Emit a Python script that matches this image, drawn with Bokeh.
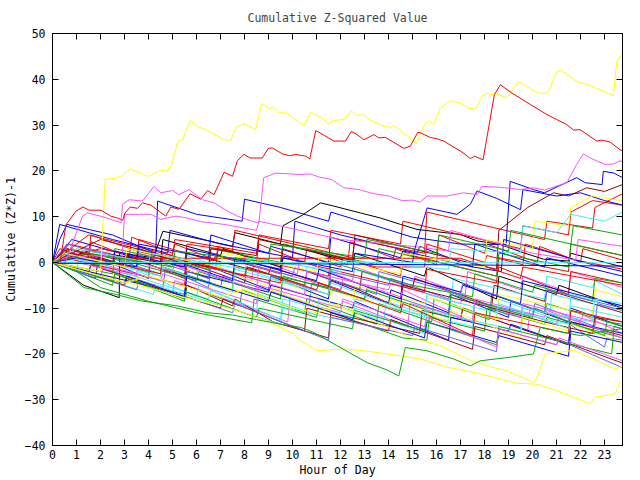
from bokeh.plotting import figure
from bokeh.models import LinearAxis, FixedTicker, Range1d
from bokeh.embed import file_html
from bokeh.resources import INLINE

# ---------------- data (hour, value) ----------------
x_ticks = list(range(0, 24))
y_ticks = [-40, -30, -20, -10, 0, 10, 20, 30, 40, 50]

s01 = [(0, 0), (0.3, 3), (1.5, 0.8), (1.6, 4.5), (3.2, 1.2), (3.3, 5.5), (5, 2), (5.1, 4), (6.8, 0.5), (6.9, 3.5), (8.5, 0.3), (8.6, 4), (10.5, 0), (10.6, 3), (12.3, -0.5), (12.4, 4.5), (14.2, 1), (14.3, 3), (16, -0.5), (16.1, 6), (18, 2), (18.1, 4), (20.2, 0), (20.3, 3.5), (22, 0), (22.1, 3), (23.75, 0.5)]
s02 = [(0, 0), (1.8, -3.5), (1.9, 1), (4, -3.5), (4.1, 1.5), (6.5, -3.5), (6.6, -1), (9, -6), (9.1, -3), (11.5, -8), (11.6, -4), (14, -9), (14.1, -6), (16.5, -11), (16.6, -7), (19, -12), (19.1, -8.5), (21.5, -13), (21.6, -10), (23.75, -14)]
s03 = [(0, 0), (2.5, -5), (2.6, -2.5), (5.5, -8.5), (5.6, -5), (7.8, -9.5), (7.9, -6), (10.5, -11), (10.6, -8), (13.5, -13.5), (13.6, -9), (15.8, -13), (15.9, -8), (18.2, -12.5), (18.3, -7), (20.5, -11), (20.6, -9), (23.75, -14)]
s04 = [(0, 0), (0.4, 2), (2, -1), (2.1, 2), (4, -2), (4.1, 1.5), (6, -2.5), (6.1, 0), (8.3, -4), (8.4, 1), (10.2, -2.5), (10.3, 0.5), (12.5, -4), (12.6, -1), (15, -5.5), (15.1, -3), (17.2, -7), (17.3, -2), (19.5, -6), (19.6, -3), (21.5, -6.5), (21.6, -2), (23.75, -5.5)]
s05 = [(0, 0), (1, -2), (1.1, 1), (3.5, -4), (3.6, -2), (6, -7.5), (6.1, -5), (8.5, -10.5), (8.6, -7), (11, -11.5), (11.1, -8), (13.8, -13), (13.9, -8.5), (16.5, -13), (16.6, -9), (18.5, -12.5), (18.6, -8), (20.7, -12), (20.8, -7), (23.75, -10.5)]
s06 = [(0, 0), (0.5, -1), (0.6, 3), (3, -1), (3.1, 1.5), (5.5, -3.5), (5.6, 0), (8, -4.5), (8.1, -1), (10.5, -5), (10.6, -2), (12.8, -6), (12.9, -2), (15, -5.5), (15.1, -3.5), (18.3, -9.5), (18.4, -5), (20.5, -8.5), (20.6, -6), (23.75, -11)]
s07 = [(0, 0), (1.5, -3), (1.6, -0.5), (4.6, -5.5), (4.7, -1.5), (7, -5.5), (7.1, -3), (10.7, -9), (10.8, -4.5), (13, -8), (13.1, -5.5), (17.5, -13), (17.6, -8.5), (20, -11.5), (20.1, -9), (22.6, -14), (22.7, -9), (23.75, -10.5)]
s08 = [(0, 0), (1.3, -5), (2.78, -7.7), (2.8, 2.1), (4.2, 1), (4.6, 6.8), (6.6, 4.6), (7.5, 3.5), (7.6, 6.5), (9.5, 4), (9.6, 8), (10.34, 10.1), (11.17, 13.0), (11.72, 12.3), (12.83, 10.8), (13.66, 9.7), (14.5, 8.3), (15.19, 7.2), (16.99, 6.1), (17.69, 4.7), (18.66, 3.9), (19.63, 2.1), (20.46, 0.7), (21.5, 0.3), (21.6, 2), (22.8, 0.3), (23.75, -1)]
s09 = [(0, 0), (0.5, 2.5), (1.5, 1), (1.6, 6), (3.5, 2.5), (5.5, 0), (6.8, -1.5), (6.9, 3), (9, 0), (11.5, -3), (11.6, 1.5), (13.5, -1), (15.5, -1), (15.6, 4), (18, 0), (18.1, 1.5), (19.6, -0.5), (19.7, 4), (21.8, 0.5), (23.75, -1.5)]
s10 = [(0, 0), (1, -2), (2, -5.5), (4, -8.5), (6, -11), (8.3, -13.2), (8.4, -8), (11, -12), (11.1, -10), (14.6, -16.5), (15.6, -17), (15.7, -12), (18, -15), (18.1, -10), (20.5, -13.5), (20.6, -12), (23.75, -16.5)]
s11 = [(0, 0), (0.3, 8.3), (2.5, 5), (4.8, 2), (4.9, 7), (7, 4), (10, 1), (10.1, 9), (12, 6), (15.2, 2), (15.3, 3.5), (17.5, -1), (18.7, -2), (18.8, 5), (20.5, 2.5), (22.5, -0.5), (23.75, -2)]
s12 = [(0, 0), (2, -3), (2.1, -1.5), (5, -6.5), (5.1, -4), (9.8, -13), (9.9, -8), (12, -11), (12.1, -8.5), (14.8, -14), (14.9, -9), (17, -12), (17.1, -10), (19.8, -15), (19.9, -10), (22, -13), (22.1, -11.5), (23.75, -15.5)]
s13 = [(0, 0), (0.5, 1.5), (3.3, -2.5), (3.4, 3), (5.5, 0), (5.6, 1.5), (8, -3), (8.1, -1.5), (10.5, -6), (10.6, -1), (12.5, -3), (12.6, -1.5), (16.6, -8.5), (16.7, -3.5), (20.5, -8), (20.6, -3), (22.5, -5.5), (22.6, -4), (23.75, -7)]
s14 = [(0, 0), (1.5, -2), (1.6, -0.5), (5.5, -7.5), (5.6, -5), (7.5, -9.5), (7.6, -8), (9.2, -13), (11.5, -16.5), (11.6, -11), (15.3, -15.5), (15.4, -10.5), (17, -12.5), (17.1, -10), (19.5, -14.5), (21.5, -18), (21.6, -13), (23.75, -16)]
s15 = [(0, 0), (3.5, -4.5), (3.6, 1), (6.5, -3), (6.6, -1), (9.5, -6), (9.6, -4), (12.5, -11), (12.6, -5), (15.5, -9), (15.6, -7.5), (18.5, -12.5), (18.6, -7), (22.5, -11.5), (22.6, -6), (23.75, -7.5)]
s16 = [(0, 0), (0.6, 2), (2, 0), (2.1, 1.5), (4.5, -2.5), (4.6, -1), (6.5, -5.5), (6.6, -1), (9, -4.5), (9.1, -3), (11.5, -7), (11.6, -2), (14, -5), (14.1, -3.5), (16.5, -8), (16.6, -6.5), (19, -11.5), (19.1, -10), (21, -13.5), (21.1, -12), (23, -18.5), (23.1, -16.5), (23.75, -17)]
s17 = [(0, 0), (0.7, 4), (3.5, 0.5), (3.6, 5), (6.7, 0.3), (6.8, 1.5), (9.5, -2.5), (9.6, 3), (12, -1), (12.1, 1), (14.5, -3), (14.6, 2), (18.5, -3), (18.6, -1), (21.5, -7), (21.6, -2), (23.75, -4.5)]
s18 = [(0, 0), (1.5, -2), (5.5, -7), (5.6, -2), (9, -6.5), (9.1, -5), (12.5, -10), (12.6, -8.5), (16.5, -17), (16.6, -12), (19, -15), (19.1, -13.5), (21.5, -18), (21.6, -13), (23.75, -15.5)]
s19 = [(0, 0), (0.8, 3), (4.5, -3), (4.6, -1), (7.5, -6), (7.6, -1), (11.5, -5.5), (11.6, 0), (15, -5), (17.5, -7.5), (17.6, -2.5), (20, -6.5), (20.1, -5), (22.5, -8.5), (22.6, -3.5), (23.75, -4.5)]
s20 = [(0, 0), (1, 0), (3.5, -3), (3.6, 2), (6, -1.5), (6.1, 0), (10.5, -7), (10.6, -2), (14, -6), (14.1, -4.5), (17, -9), (17.1, -7.5), (19.5, -12), (19.6, -9), (23.75, -14.5)]
s21 = [(0, 0), (4.2, -7), (4.3, -5), (9.5, -13.5), (9.6, -10), (12.5, -13), (12.6, -8), (17.5, -14), (17.6, -9), (21.5, -13.5), (21.6, -7), (23.75, -9.5)]
s22 = [(0, 0), (0.6, 3), (3, -0.5), (3.1, 1), (5.5, -3), (5.6, 2), (9, -2.5), (9.1, -1), (12, -6), (12.1, -4.5), (14.5, -10), (14.6, -5), (18, -9.5), (20.5, -13), (22.5, -15.5), (22.6, -12), (23.75, -13)]
s23 = [(0, 0), (2.5, -4), (2.6, -2.5), (6.5, -9), (6.6, -4.5), (9, -8), (9.1, -6), (11.5, -10.5), (11.6, -6), (14, -10), (14.1, -8), (16.5, -13), (16.6, -10.5), (19.5, -16.5), (19.6, -12), (21.5, -15), (21.6, -13.5), (23.75, -17.5)]
s24 = [(0, 0), (1.5, 2.5), (4.5, 0), (4.6, 5), (7, 1.5), (7.1, 3), (9.5, -1), (9.6, 4), (12.5, 0), (12.6, 2), (15.5, -3), (15.6, -1), (18.5, -8), (18.6, -3), (21, -7), (21.1, -5), (23.75, -10)]
s25 = [(0, 0), (0.5, 1), (5.5, -5), (5.6, 0), (9.5, -4.5), (9.6, 1), (15.5, -6.5), (15.6, -1.5), (18.5, -4.5), (18.6, 1), (21.5, -2), (21.6, 4), (23.75, 1.5)]
s26 = [(0, 0), (0.8, 5), (3.5, 1), (3.6, 3), (7.5, -4), (7.6, 1), (11, -4), (11.1, -1.5), (14.5, -8), (14.6, -3), (17, -6.5), (17.1, -5), (19.5, -9), (19.6, -4), (23.75, -9.5)]
s27 = [(0, 0), (2.5, -2.5), (2.6, 1), (6, -4), (6.1, -2), (9.5, -8), (9.6, -3), (13, -8), (13.1, -6), (16.5, -12), (16.6, -7), (20, -12), (20.1, -10), (23, -16), (23.1, -13), (23.75, -13.5)]
s28 = [(0, 0), (1.5, 3), (5, -2), (5.1, 0), (8.5, -6), (8.6, -1), (12, -6), (12.1, -3.5), (14.5, -7.5), (14.6, -6), (17.5, -13), (17.6, -8), (20.5, -12), (20.6, -10.5), (23.75, -16.5)]
s29 = [(0, 0), (1.5, 1), (4.5, -3), (4.6, -1), (7.5, -6.5), (7.6, -1.5), (11.5, -7), (11.6, -4.5), (15.5, -12), (15.6, -7), (18.5, -11), (18.6, -9), (21.5, -14.5), (21.6, -9.5), (23.75, -12)]
s30 = [(0, 0), (3, -5), (3.1, -3.5), (7, -10), (7.1, -8), (10.5, -15), (10.6, -10), (14, -15), (14.1, -12.5), (17.5, -19), (17.6, -14), (20.5, -18), (20.6, -16), (23.75, -22)]
s31 = [(0, 0), (0.6, 4), (3.5, 0), (3.6, 1.5), (6.5, -3.5), (6.6, 2), (10, -3), (10.1, -1), (13.5, -7), (13.6, -2), (17, -7), (17.1, -4.5), (20.5, -11), (20.6, -6), (23.75, -10)]
s32 = [(0, 0), (1.5, 6), (5, 1.5), (5.1, 5), (8.5, 2), (8.6, 6), (11.5, 3), (11.6, 7), (14.5, 4), (14.6, 9), (19.5, 3), (19.6, 8), (21.5, 6), (21.6, 11), (22.5, 13.5), (23.75, 12.5)]
s33 = [(0, 0), (0.7, 2), (3.5, -1), (3.6, 4), (6.5, 1), (6.6, 6), (9, 2), (9.1, 3.5), (11.5, 0), (11.6, 5.5), (14.5, 1), (14.6, 2.5), (17.5, -1), (17.6, 4), (20.5, -1), (20.6, 1), (23.75, -3)]
s34 = [(0, 0), (2.5, -0.5), (2.6, 3), (6.5, -1.5), (6.6, 3), (9.5, 0), (9.6, 4), (13.5, -0.5), (13.6, 3), (18.5, -3), (18.6, 2), (21.5, -1), (21.6, 4), (23.75, 1.5)]
s35 = [(0, 0), (2, 3), (5.5, -1), (5.6, 4), (7.5, 2.5), (7.6, 7), (12.5, 1), (12.6, 5), (15.5, 2), (15.6, 11), (20.5, 5), (20.6, 9), (22.5, 7.5), (22.6, 12), (23.75, 15)]
s36 = [(0, 0), (2, 5), (6.5, -1), (6.6, 3), (8.5, 1.5), (8.6, 5), (12.5, 0.5), (12.6, 6), (18.5, -1.5), (18.6, 7), (19.8, 12), (20.88, 15.2), (21.5, 14.5), (22.26, 16.3), (23, 15.5), (23.75, 17)]
s37 = [(0, 0), (3, -4.5), (3.1, -2.5), (6.5, -8), (6.6, -6), (9.5, -12.5), (9.6, -8), (12.5, -12), (12.6, -10), (15.5, -15.5), (15.6, -10.5), (19.5, -15), (19.6, -10), (22.5, -13), (22.6, -8), (23.75, -9)]
s38 = [(0, 0), (3.5, -6), (3.6, -4), (7.5, -11), (7.6, -9), (11.5, -17), (11.6, -12), (15, -16), (15.1, -14), (18.5, -19.5), (18.6, -14.5), (21, -18), (21.1, -17), (23.75, -23)]
s39 = [(0, 0), (3, -4.5), (3.1, -3), (5.5, -7.5), (5.6, -3), (9, -8.5), (9.1, -6.5), (12.5, -12.5), (12.6, -11), (15.5, -16.5), (15.6, -13), (18.5, -17.5), (18.6, -16), (21.5, -20.5), (21.6, -15), (23.75, -17.5)]
s40 = [(0, 0), (2.5, -4), (2.6, -2.5), (5.5, -8), (5.6, -6.5), (8.5, -12), (8.6, -10), (12.5, -14.5), (12.6, -10.5), (15.5, -15), (15.6, -13), (18.5, -18), (18.6, -14), (23.3, -20), (23.4, -14), (23.75, -14.5)]
s41 = [(0, 0), (0.8, 2), (4.5, -2.5), (4.6, 2), (8, -3), (8.1, -1), (11, -6), (11.1, -4.5), (14.5, -11), (14.6, -9), (17.5, -16), (17.6, -11), (21.5, -15.5), (21.6, -10.5), (23.75, -13)]
s42 = [(0, 0), (0.8, 1.5), (4.5, -4), (4.6, -2.5), (8.5, -9), (8.6, -5), (12, -10), (12.1, -8), (15.5, -14), (15.6, -12), (18.5, -18.5), (18.6, -14.5), (21, -18), (21.1, -16.5), (23.75, -21.5)]
s43 = [(0, 0), (1, 2.5), (2.5, 0.9), (17, 0.9), (19.5, -3.5), (19.6, -1), (23.75, -5)]
s44 = [(0, 0), (0.3, 5), (0.6, 8.3), (2.5, 6), (4.3, 2), (4.38, 13.4), (6, 10.5), (7.9, 9), (8, 13.8), (9.5, 12), (11.5, 9), (11.6, 11), (15, 5.5), (17, 4), (18.9, 3.9), (19.07, 17.7), (20.04, 15.9), (20.5, 15.2), (21.84, 18.5), (22.2, 17.4), (22.9, 17), (22.95, 19.9), (23.4, 19.5), (23.75, 18.5)]
s45 = [(0, 0), (1.5, 1.5), (2.9, 1), (3.0, 10.5), (4.1, 10.5), (4.51, 9.4), (5.14, 10.1), (5.62, 9.7), (6.18, 8.9), (7.15, 8.3), (8.5, 7), (8.6, 9), (12, 5), (15, 3.5), (16.5, 2.5), (16.6, 7), (20, 2), (21.8, 0.5), (21.9, 5), (23.75, 3.5)]
s46 = [(0, 0), (1, 1), (2.5, -0.5), (2.6, 2.5), (5.5, -1), (5.6, 3), (9.5, -1.5), (9.6, 1), (12.5, -2), (12.6, 2), (15, 0), (15.1, 3), (15.61, 11.9), (16.85, 10.5), (17.41, 12.7), (17.69, 15.6), (18.5, 14), (19.5, 11.5), (19.6, 15.9), (21, 14.5), (22, 15.2), (23, 13.5), (23.75, 12.5)]
s47 = [(0, 0), (0.5, 2), (3, -1), (3.1, 3), (7, -1), (7.1, 2), (11, -2), (11.1, 1), (14.5, -2.5), (14.6, 2), (18, -1), (18.1, 5), (20, 3), (20.1, 9), (21.5, 8), (21.6, 12), (22.5, 14.5), (23, 14), (23.75, 13.5)]
s48 = [(0, 0), (1, 3), (4, 0), (4.1, 2), (8, -1.5), (8.1, 1), (12, -2), (12.1, 0.5), (16.5, -1.5), (16.6, 3), (19.5, 2), (19.6, 8), (21, 6.5), (21.6, 10.5), (23, 9), (23.75, 11)]
s49 = [(0, 0), (1.5, 2), (5, -1), (5.1, 2.5), (9, 0), (9.1, 4), (13, 1), (13.1, 5), (16, 2), (16.1, 6), (19, 2.5), (19.1, 7), (21.6, 4), (21.7, 8), (23.75, 6)]

top_yellow = [(0, 0), (1, -1), (2.0, -2), (2.2, 18.2), (2.57, 18.3), (2.85, 18.8), (3.24, 20.4), (3.96, 18.8), (4.51, 20.1), (4.72, 19.9), (4.96, 21.2), (5.23, 26.5), (5.42, 26.8), (5.73, 31.0), (6.04, 29.7), (6.46, 28.8), (7.15, 26.8), (7.43, 26.7), (7.63, 29.4), (7.98, 30.3),
              (8.46, 29.0), (8.71, 34.7), (9.02, 33.6), (9.2, 33.9), (9.43, 32.8), (9.71, 32.8), (10.47, 29.9), (10.75, 32.8), (11.14, 31.8), (11.51, 30.3), (11.7, 31.0), (12.14, 31.2), (12.45, 33.1), (12.7, 32.1), (12.93, 32.3), (13.25, 31.0), (13.84, 29.7),
              (14.08, 29.5), (14.22, 29.9), (14.98, 26.8), (15.16, 26.0), (15.33, 28.2), (15.54, 30.4), (15.67, 30.8), (15.88, 30.1), (16.16, 33.7), (16.58, 35.3), (16.99, 34.8), (17.34, 33.7), (17.62, 33.4), (17.9, 36.3), (18.1, 37.0), (18.31, 36.6),
              (18.45, 36.8), (18.94, 36.0), (19.42, 39.5), (19.77, 38.4), (20.11, 37.3), (20.46, 36.8), (20.67, 37.3), (21.01, 41.7), (21.22, 41.9), (21.85, 39.5), (22.26, 38.9), (22.82, 37.7), (23.37, 36.4), (23.51, 43.9), (23.75, 45.5)]
top_red = [(0, 0), (0.3, -0.5), (0.56, 8.2), (0.98, 11.2), (1.26, 12.1), (1.53, 11.4), (2.02, 11.4), (2.43, 10.1), (2.71, 9.7), (2.92, 9.2), (3.02, 10.8), (3.24, 12.1), (3.54, 11.8), (3.75, 13.0), (4.1, 12.5), (4.72, 10.1), (4.93, 12.1), (5.27, 11.6), (5.73, 15.0), (6.18, 13.8),
           (6.46, 15.7), (6.73, 14.8), (7.15, 19.7), (7.5, 18.8), (7.7, 22.2), (7.98, 23.6), (8.23, 22.8), (8.74, 22.8), (8.99, 24.9), (9.16, 25.0), (9.58, 23.7), (9.89, 23.3), (10.13, 23.6), (10.34, 23.4), (10.55, 23.2), (10.72, 22.6), (10.97, 28.8), (11.34, 27.7),
           (11.72, 26.5), (12.21, 26.5), (12.45, 28.6), (12.7, 27.9), (12.97, 26.8), (13.39, 27.9), (13.6, 27.2), (13.87, 27.3), (14.64, 24.9), (14.91, 25.4), (15.22, 28.4), (15.33, 28.3), (15.74, 27.3), (16.02, 27.0), (16.3, 26.5), (16.65, 25.4),
           (17.06, 24.1), (17.41, 22.7), (17.59, 23.2), (17.94, 22.4), (18.41, 36.6), (18.66, 38.8), (19.14, 37.0), (19.91, 34.5), (20.6, 32.3), (21.01, 31.2), (21.43, 30.1), (21.71, 28.9), (21.98, 29.0), (22.68, 26.5), (22.89, 26.7), (23.23, 26.3),
           (23.65, 24.6), (23.75, 24.4)]
top_magenta = [(0, 0), (0.5, -0.5), (1.25, 10.1), (1.46, 10.8), (2.0, 10.1), (2.85, 8.7), (2.92, 12.7), (3.2, 13.7), (3.75, 13.4), (4.23, 16.6), (4.51, 15.2), (5.0, 15.7), (5.27, 14.8), (5.69, 15.9), (6.25, 13.7), (6.73, 13.0), (7.29, 11.2), (7.7, 10.1), (8.3, 9.0), (8.6, 8.6),
               (8.8, 18.5), (9.3, 19.5), (10.34, 19.2), (10.75, 19.3), (11.14, 18.6), (11.63, 18.1), (12.14, 16.3), (12.76, 15.9), (13.39, 15.0), (14.0, 14.5), (14.57, 13.5), (15.0, 13.6), (15.33, 13.2), (15.61, 14.5), (16.44, 14.5), (17.13, 15.2),
               (17.69, 14.8), (17.9, 16.6), (18.66, 16.4), (19.49, 15.9), (20.04, 16.3), (20.5, 15.8), (21.43, 17.4), (21.84, 21.4), (22.12, 23.7), (22.4, 22.8), (23.02, 21.4), (23.37, 21.5), (23.65, 22.2), (23.75, 22.0)]
low_yellow = [(0, 0), (1, -1.5), (2, -3), (3, -4.3), (4, -5.5), (5, -7), (6, -8.3), (7, -9.5), (8, -11), (9, -13), (10, -15.5), (10.34, -17.1), (11.03, -19.3), (12.14, -18.9), (12.97, -19.3), (14.5, -20.4), (15.33, -21.1), (16.44, -22.9),
              (17.55, -24.0), (18.66, -25.5), (19.35, -26.4), (20.18, -26.6), (21, -28), (22.4, -30.9), (22.6, -29.5), (23.44, -28.7), (23.65, -26.2), (23.75, -26.0)]
mid_yellow = [(0, 0), (1, -1.5), (2, -3), (3, -4.5), (4, -3), (5, -4.5), (6, -6), (7, -7.5), (8, -6), (9, -8), (10, -10), (11, -11), (12, -9), (13, -12), (14, -14.2), (14.91, -16.4), (16.16, -18.2), (17.27, -21.1), (18.1, -22.6), (18.94, -23.7),
              (20.04, -26.2), (20.2, -25), (20.53, -20.0), (21.71, -19.2), (22.5, -21), (23.44, -23.3), (23.75, -22.6)]
low_green = [(0, 0), (1.32, -5.5), (2.56, -6.9), (3.68, -8.4), (5.2, -9.5), (6.46, -11), (7.5, -11.5), (8.5, -12.5), (9.5, -13.5), (10.34, -14.2), (10.89, -15.3), (11.86, -18.2), (13.11, -21.9), (13.94, -23.5), (14.43, -24.8), (14.7, -18.6), (15.6, -19.3),
             (16.71, -21.1), (17.41, -22.6), (17.82, -21.5), (18.94, -20.8), (20.04, -20.0), (20.32, -14.2), (21, -15), (22, -16), (23, -15), (23.75, -14.5)]
flat_cyan = [(0, 0), (0.5, 0.0), (23.75, -0.1)]
flat_blue = [(0, 0), (0.25, -0.2), (10, -0.3), (23.75, -0.8)]

# ---------------- styling ----------------
RED = "#ff0000"
GREEN = "#00b000"
BLUE = "#0000ff"
MAGENTA = "#ff50ff"
CYAN = "#40f0f0"
DARKRED = "#a00000"
YELLOW = "#ffff00"
BLACK = "#000000"
SLATE = "#6464ff"

series = [
    (s01, RED), (s02, BLUE), (s03, GREEN), (s04, MAGENTA), (s05, CYAN), (s06, DARKRED), (s07, SLATE), (s08, BLACK),
    (s09, RED), (s10, GREEN), (s11, BLUE), (s12, MAGENTA), (s13, CYAN), (s14, DARKRED), (s15, YELLOW), (s16, SLATE),
    (s17, RED), (s18, BLUE), (s19, GREEN), (s20, MAGENTA), (s21, CYAN), (s22, DARKRED), (s23, YELLOW), (s24, BLACK),
    (s25, RED), (s26, BLUE), (s27, GREEN), (s28, MAGENTA), (s29, CYAN), (s30, DARKRED), (s31, SLATE), (s32, RED),
    (s33, BLUE), (s34, GREEN), (s35, RED), (s36, DARKRED), (s37, CYAN), (s38, SLATE), (s39, BLUE), (s40, GREEN),
    (s41, RED), (s42, MAGENTA), (s43, RED), (s44, BLUE), (s45, MAGENTA), (s46, BLUE), (s47, YELLOW), (s48, CYAN),
    (s49, GREEN),
    (top_yellow, YELLOW), (top_red, RED), (top_magenta, MAGENTA), (low_yellow, YELLOW), (mid_yellow, YELLOW),
    (low_green, GREEN), (flat_cyan, CYAN), (flat_blue, BLUE),
]

FONT = "DejaVu Sans Mono"
FS = "11.5px"

p = figure(width=640, height=480, output_backend="svg", toolbar_location=None,
           x_range=Range1d(0, 23.75), y_range=Range1d(-40, 50),
           title="Cumulative Z-Squared Value",
           x_axis_label="Hour of Day", y_axis_label="Cumulative (Z*Z)-1",
           min_border_left=52, min_border_right=18, min_border_top=32, min_border_bottom=35)

p.title.align = "center"
p.title.text_font = FONT
p.title.text_font_size = FS
p.title.text_font_style = "normal"
p.title.standoff = 17

p.xgrid.visible = False
p.ygrid.visible = False
p.outline_line_color = "black"
p.outline_line_alpha = 1.0
p.outline_line_width = 1
p.background_fill_color = "white"
p.border_fill_color = "white"

for pts, col in series:
    xs = [pt[0] for pt in pts]
    ys = [pt[1] for pt in pts]
    p.line(xs, ys, line_color=col, line_width=1)


def style_axis(ax, ticks, labels=True):
    ax.ticker = FixedTicker(ticks=ticks)
    ax.major_tick_in = 6
    ax.major_tick_out = 0
    ax.minor_tick_line_color = None
    ax.major_tick_line_color = "black"
    ax.axis_line_color = "black"
    ax.major_label_text_font = FONT
    ax.major_label_text_color = "black"
    ax.axis_label_text_font = FONT
    ax.axis_label_text_font_size = FS
    ax.axis_label_text_font_style = "normal"
    ax.axis_label_text_color = "black"
    ax.major_label_text_font_size = FS if labels else "0px"


style_axis(p.xaxis[0], x_ticks)
style_axis(p.yaxis[0], y_ticks)
p.xaxis[0].major_label_standoff = 4
p.xaxis[0].axis_label_standoff = 1
p.yaxis[0].major_label_standoff = 7
p.yaxis[0].axis_label_standoff = 4

top = LinearAxis()
style_axis(top, x_ticks, labels=False)
top.major_label_standoff = 0
right = LinearAxis()
style_axis(right, y_ticks, labels=False)
right.major_label_standoff = 0
p.add_layout(top, "above")
p.add_layout(right, "right")

open("out.html", "w").write(file_html(p, INLINE))
